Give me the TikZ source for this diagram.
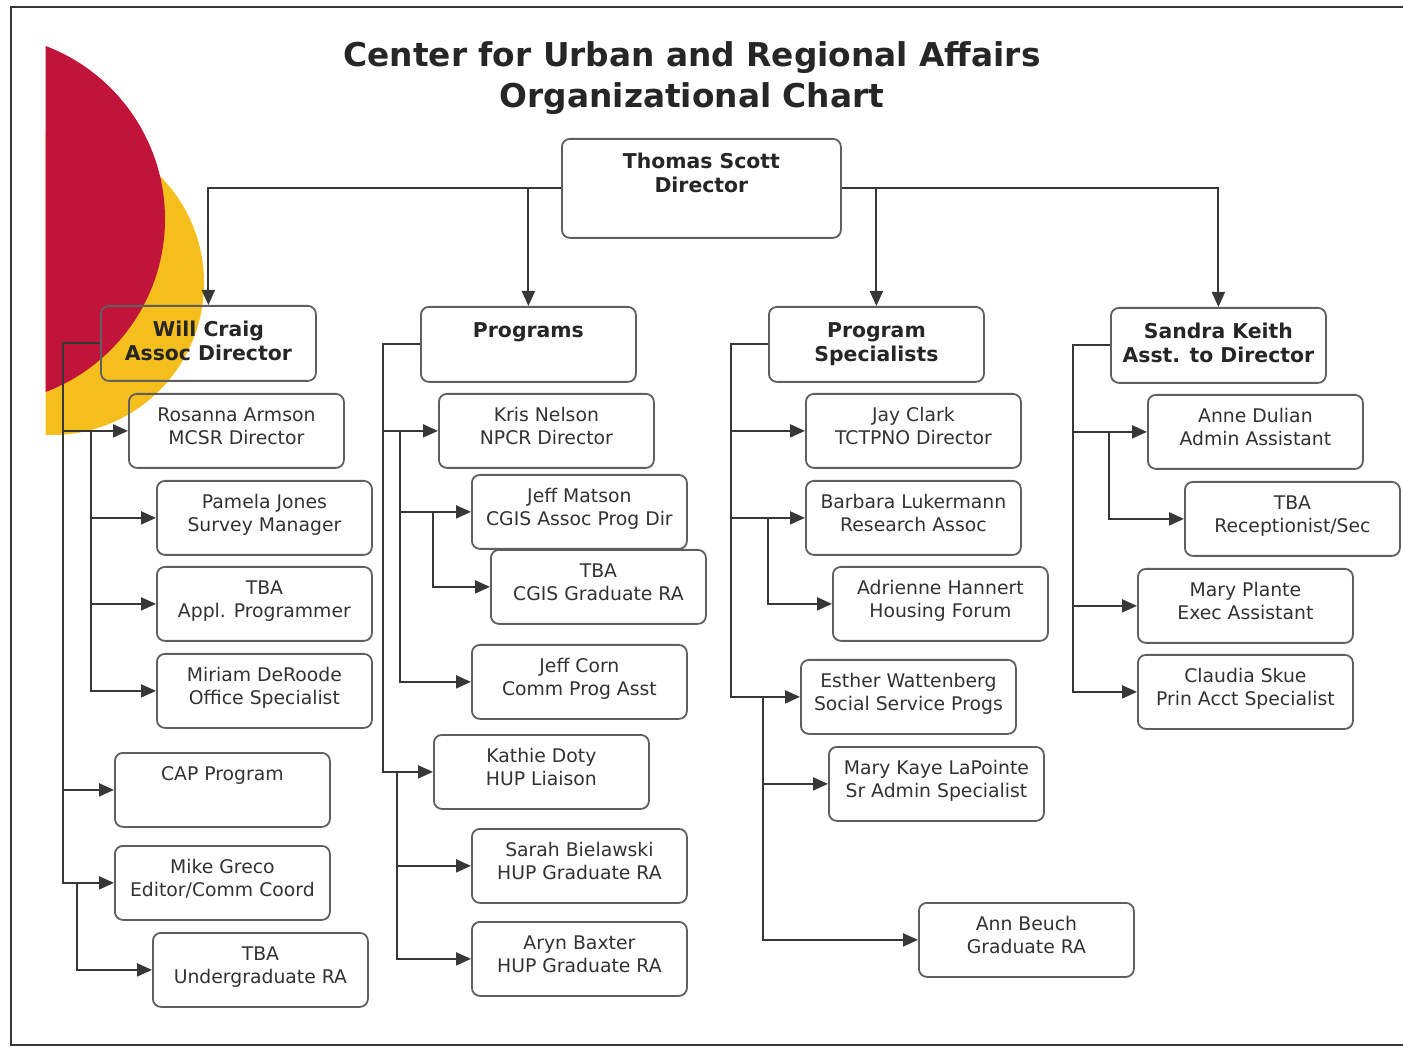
\documentclass[tikz,border=0pt]{standalone}
\usepackage{fontspec}
\setmainfont{DejaVu Sans}
\usetikzlibrary{arrows.meta}

\definecolor{logored}{RGB}{193,20,58}
\definecolor{logogold}{RGB}{244,190,28}
\definecolor{ink}{RGB}{50,50,50}
\definecolor{linegray}{RGB}{55,55,55}

\tikzset{
  card/.style={draw=linegray!80, line width=0.9pt, rounded corners=4pt, anchor=north west,
    minimum width=107.5pt, inner ysep=0pt, align=center, text=ink,
    font=\fontsize{9.4}{11.5}\selectfont, text height=25.5pt, text depth=11.5pt},
  head/.style={card, font=\fontsize{10.2}{12}\selectfont\bfseries, text=black!85,
    text height=27.5pt, text depth=10pt},
  link/.style={draw=linegray, line width=1pt, -{Triangle[length=7.5pt,width=6.5pt]}},
}

\begin{document}
\begin{tikzpicture}[x=0.5pt, y=-0.5pt]
\useasboundingbox (0,0) rectangle (1403,1047);

% logo behind the chart
\begin{scope}
  \clip (45.5,0) rectangle (400,600);
  \fill[logogold] (52,283) circle[radius=76pt];
  \fill[logored] (-20,219) circle[radius=92.5pt];
\end{scope}

% frame
\draw[linegray, line width=1pt] (1403,7) -- (11,7) -- (11,1045) -- (1403,1045);

\node[font=\fontsize{16.4}{20.5}\selectfont\bfseries, align=center, text=black!85] (title) at (692,78)
  {Center for Urban and Regional Affairs\\Organizational Chart};

% director and heads
\node[head, minimum width=139.5pt, text height=27pt, text depth=22.5pt] (dir) at (561,138) {Thomas Scott\\Director};
\node[head] (will) at (100,305) {Will Craig\\Assoc Director};
\node[head] (prog) at (420,306) {Programs\\~};
\node[head] (spec) at (768,306) {Program\\Specialists};
\node[head] (sandra) at (1110,307) {Sandra Keith\\Asst. to Director};

% assoc director
\node[card] (rosanna) at (128,393) {Rosanna Armson\\MCSR Director};
\node[card] (pamela) at (156,480) {Pamela Jones\\Survey Manager};
\node[card] (tbaprog) at (156,566) {TBA\\Appl. Programmer};
\node[card] (miriam) at (156,653) {Miriam DeRoode\\Office Specialist};
\node[card] (cap) at (114,752) {CAP Program\\~};
\node[card] (mike) at (114,845) {Mike Greco\\Editor/Comm Coord};
\node[card] (tbaura) at (152,932) {TBA\\Undergraduate RA};

% programs
\node[card] (kris) at (438,393) {Kris Nelson\\NPCR Director};
\node[card] (matson) at (471,474) {Jeff Matson\\CGIS Assoc Prog Dir};
\node[card] (tbacgis) at (490,549) {TBA\\CGIS Graduate RA};
\node[card] (corn) at (471,644) {Jeff Corn\\Comm Prog Asst};
\node[card] (doty) at (433,734) {Kathie Doty\\HUP Liaison};
\node[card] (sarah) at (471,828) {Sarah Bielawski\\HUP Graduate RA};
\node[card] (aryn) at (471,921) {Aryn Baxter\\HUP Graduate RA};

% program specialists
\node[card] (clark) at (805,393) {Jay Clark\\TCTPNO Director};
\node[card] (barbara) at (805,480) {Barbara Lukermann\\Research Assoc};
\node[card] (adrienne) at (832,566) {Adrienne Hannert\\Housing Forum};
\node[card] (esther) at (800,659) {Esther Wattenberg\\Social Service Progs};
\node[card] (lapointe) at (828,746) {Mary Kaye LaPointe\\Sr Admin Specialist};
\node[card] (beuch) at (918,902) {Ann Beuch\\Graduate RA};

% asst. to director
\node[card] (dulian) at (1147,394) {Anne Dulian\\Admin Assistant};
\node[card] (tbarec) at (1184,481) {TBA\\Receptionist/Sec};
\node[card] (plante) at (1137,568) {Mary Plante\\Exec Assistant};
\node[card] (skue) at (1137,654) {Claudia Skue\\Prin Acct Specialist};

% director to heads
\draw[link] (dir.west) -| (will.north);
\draw[link] (dir.west -| prog.north) -- (prog.north);
\draw[link] (dir.east) -| (sandra.north);
\draw[link] (dir.east -| spec.north) -- (spec.north);

% will craig
\draw[link] (will.west) -- ++(-37,0) |- (mike.west);
\draw[link] (rosanna.west -| 63,0) -- (rosanna.west);
\draw[link] (rosanna.west -| 91,0) |- (miriam.west);
\foreach \n in {pamela,tbaprog}
  \draw[link] (\n.west -| 91,0) -- (\n.west);
\draw[link] (cap.west -| 63,0) -- (cap.west);
\draw[link] (mike.west -| 77,0) |- (tbaura.west);

% programs
\draw[link] (prog.west) -- ++(-37,0) |- (doty.west);
\draw[link] (kris.west -| 383,0) -- (kris.west);
\draw[link] (kris.west -| 400,0) |- (corn.west);
\draw[link] (matson.west -| 400,0) -- (matson.west);
\draw[link] (matson.west -| 433,0) |- (tbacgis.west);
\draw[link] (doty.west -| 397,0) |- (aryn.west);
\draw[link] (sarah.west -| 397,0) -- (sarah.west);

% program specialists
\draw[link] (spec.west) -- ++(-37,0) |- (esther.west);
\foreach \n in {clark,barbara}
  \draw[link] (\n.west -| 731,0) -- (\n.west);
\draw[link] (barbara.west -| 768,0) |- (adrienne.west);
\draw[link] (esther.west -| 763,0) |- (beuch.west);
\draw[link] (lapointe.west -| 763,0) -- (lapointe.west);

% sandra keith
\draw[link] (sandra.west) -- ++(-37,0) |- (skue.west);
\foreach \n in {dulian,plante}
  \draw[link] (\n.west -| 1073,0) -- (\n.west);
\draw[link] (dulian.west -| 1109,0) |- (tbarec.west);
\end{tikzpicture}
\end{document}
